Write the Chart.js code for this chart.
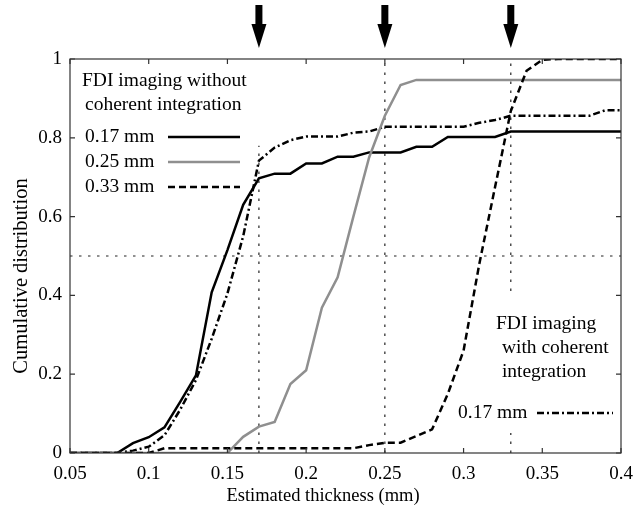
<!DOCTYPE html>
<html>
<head>
<meta charset="utf-8">
<script src="https://cdn.jsdelivr.net/npm/chart.js@4/dist/chart.umd.min.js"></script>
<style>
  html, body { margin: 0; padding: 0; background: #fff; }
  #wrap { width: 634px; height: 511px; }
</style>
</head>
<body>
<div id="wrap"><canvas id="myChart" width="634" height="511"></canvas></div>
<script>
// thickness samples (mm)
const thickness = [0.05, 0.06, 0.07, 0.08, 0.09, 0.10, 0.11, 0.12, 0.13, 0.14, 0.15, 0.16,
  0.17, 0.18, 0.19, 0.20, 0.21, 0.22, 0.23, 0.24, 0.25, 0.26, 0.27, 0.28,
  0.29, 0.30, 0.31, 0.32, 0.33, 0.34, 0.35, 0.36, 0.37, 0.38, 0.39, 0.40];

// without coherent integration
const noCoh017 = [0, 0, 0, 0, 0.025, 0.04, 0.065, 0.13, 0.197, 0.408, 0.515, 0.63,
  0.697, 0.709, 0.709, 0.735, 0.735, 0.752, 0.752, 0.763, 0.763, 0.763, 0.777, 0.777,
  0.802, 0.802, 0.802, 0.802, 0.816, 0.816, 0.816, 0.816, 0.816, 0.816, 0.816, 0.816];
const noCoh025 = [0, 0, 0, 0, 0, 0, 0, 0, 0, 0, 0, 0.041,
  0.067, 0.079, 0.175, 0.21, 0.369, 0.446, 0.60, 0.75, 0.856, 0.934, 0.947, 0.947,
  0.947, 0.947, 0.947, 0.947, 0.947, 0.947, 0.947, 0.947, 0.947, 0.947, 0.947, 0.947];
const noCoh033 = [0, 0, 0, 0, 0, 0, 0.012, 0.012, 0.012, 0.012, 0.012, 0.012,
  0.012, 0.012, 0.012, 0.012, 0.012, 0.012, 0.012, 0.02, 0.026, 0.026, 0.043, 0.06,
  0.15, 0.26, 0.48, 0.675, 0.868, 0.97, 0.998, 1, 1, 1, 1, 1];
// with coherent integration
const coh017 = [0, 0, 0, 0, 0.006, 0.016, 0.045, 0.11, 0.185, 0.29, 0.405, 0.55,
  0.742, 0.775, 0.794, 0.803, 0.803, 0.803, 0.813, 0.816, 0.828, 0.828, 0.828, 0.828,
  0.828, 0.828, 0.838, 0.845, 0.856, 0.856, 0.856, 0.856, 0.856, 0.856, 0.87, 0.87];

const xTicks = [0.05, 0.1, 0.15, 0.2, 0.25, 0.3, 0.35, 0.4];
const xTickLabels = ['0.05', '0.1', '0.15', '0.2', '0.25', '0.3', '0.35', '0.4'];
const yTicks = [0, 0.2, 0.4, 0.6, 0.8, 1];
const yTickLabels = ['0', '0.2', '0.4', '0.6', '0.8', '1'];

// marked thicknesses (arrows + vertical guides) and the 50% guide
const markers = [0.17, 0.25, 0.33];
const markerTop = [0.78, 1, 1];
const halfLevel = 0.5;

const xTitle = 'Estimated thickness (mm)';
const yTitle = 'Cumulative distribution';
const legend1Title = ['FDI imaging without', 'coherent integration'];
const legend1Labels = ['0.17 mm', '0.25 mm', '0.33 mm'];
const legend2Title = ['FDI imaging', ' with coherent', ' integration'];
const legend2Labels = ['0.17 mm'];

const FONT = '"Liberation Serif", "Times New Roman", serif';
const GRAY = '#8f8f8f';
const DASH = [7, 4];
const DASHDOT = [7, 3, 2, 3];

function pts(ys) {
  return thickness.map((x, i) => ({ x: x, y: ys[i] }));
}

function sample(ctx, x1, x2, y, color, dash) {
  ctx.save();
  ctx.strokeStyle = color;
  ctx.lineWidth = 2.5;
  ctx.setLineDash(dash);
  ctx.beginPath();
  ctx.moveTo(x1, y);
  ctx.lineTo(x2, y);
  ctx.stroke();
  ctx.restore();
}

const decorations = {
  id: 'decorations',
  beforeDatasetsDraw(chart) {
    const ctx = chart.ctx;
    const xs = chart.scales.x, ys = chart.scales.y;
    const a = chart.chartArea;
    ctx.save();
    ctx.strokeStyle = '#222';
    ctx.lineWidth = 1.2;
    ctx.setLineDash([2.5, 6.5]);
    ctx.beginPath();
    const yh = ys.getPixelForValue(halfLevel);
    ctx.moveTo(a.left, yh);
    ctx.lineTo(a.right, yh);
    markers.forEach((m, i) => {
      const px = xs.getPixelForValue(m);
      ctx.moveTo(px, a.bottom);
      ctx.lineTo(px, ys.getPixelForValue(markerTop[i]));
    });
    ctx.stroke();
    ctx.restore();
    // white panel behind second legend
    ctx.save();
    ctx.fillStyle = '#fff';
    ctx.fillRect(452, 292, 164, 141);
    ctx.restore();
  },
  afterDatasetsDraw(chart) {
    const ctx = chart.ctx;
    const xs = chart.scales.x, ys = chart.scales.y;
    const a = chart.chartArea;

    // frame with inward ticks
    ctx.save();
    ctx.strokeStyle = '#333';
    ctx.lineWidth = 1.2;
    ctx.strokeRect(a.left, a.top, a.right - a.left, a.bottom - a.top);
    ctx.beginPath();
    xTicks.forEach(v => {
      const px = xs.getPixelForValue(v);
      ctx.moveTo(px, a.bottom); ctx.lineTo(px, a.bottom - 5);
      ctx.moveTo(px, a.top); ctx.lineTo(px, a.top + 5);
    });
    yTicks.forEach(v => {
      const py = ys.getPixelForValue(v);
      ctx.moveTo(a.left, py); ctx.lineTo(a.left + 5, py);
      ctx.moveTo(a.right, py); ctx.lineTo(a.right - 5, py);
    });
    ctx.stroke();
    ctx.restore();

    // arrows above the plot
    ctx.save();
    ctx.fillStyle = '#000';
    markers.forEach(m => {
      const px = xs.getPixelForValue(m);
      ctx.fillRect(px - 3.5, 5, 7, 20);
      ctx.beginPath();
      ctx.moveTo(px - 7.5, 24);
      ctx.lineTo(px + 7.5, 24);
      ctx.lineTo(px, 48);
      ctx.closePath();
      ctx.fill();
    });
    ctx.restore();

    // axis titles
    ctx.save();
    ctx.fillStyle = '#000';
    ctx.textAlign = 'center';
    ctx.textBaseline = 'middle';
    ctx.font = '18.5px ' + FONT;
    ctx.fillText(xTitle, 323, 496);
    ctx.translate(22, 276);
    ctx.rotate(-Math.PI / 2);
    ctx.font = '20.5px ' + FONT;
    ctx.fillText(yTitle, 0, 0);
    ctx.restore();

    // legends
    ctx.save();
    ctx.fillStyle = '#000';
    ctx.font = '19.5px ' + FONT;
    ctx.textBaseline = 'middle';
    ctx.textAlign = 'left';
    ctx.fillText(legend1Title[0], 82, 81);
    ctx.fillText(legend1Title[1], 85, 105);
    const styles = [['#000', []], [GRAY, []], ['#000', DASH]];
    legend1Labels.forEach((t, i) => {
      const y = 137 + i * 25;
      ctx.fillText(t, 85, y);
      sample(ctx, 168, 240, y, styles[i][0], styles[i][1]);
    });
    ctx.fillText(legend2Title[0], 496, 324);
    ctx.fillText(legend2Title[1], 497, 348);
    ctx.fillText(legend2Title[2], 497, 372);
    ctx.fillText(legend2Labels[0], 458, 413);
    sample(ctx, 537, 613, 413, '#000', DASHDOT);
    ctx.restore();
  }
};

const ctx = document.getElementById('myChart').getContext('2d');

new Chart(ctx, {
  type: 'line',
  data: {
    datasets: [
      { label: '0.33 mm', data: pts(noCoh033), borderColor: '#000', borderDash: DASH },
      { label: '0.25 mm', data: pts(noCoh025), borderColor: GRAY },
      { label: '0.17 mm coherent', data: pts(coh017), borderColor: '#000', borderDash: DASHDOT },
      { label: '0.17 mm', data: pts(noCoh017), borderColor: '#000' }
    ]
  },
  options: {
    responsive: false,
    animation: false,
    layout: { padding: { top: 59, right: 13, left: 0, bottom: 0 } },
    elements: {
      point: { radius: 0 },
      line: { borderWidth: 2.5, tension: 0, fill: false }
    },
    plugins: { legend: { display: false }, tooltip: { enabled: false } },
    scales: {
      x: {
        type: 'linear',
        min: 0.05,
        max: 0.4,
        afterBuildTicks: s => { s.ticks = xTicks.map(v => ({ value: v })); },
        afterFit: s => { s.height = 58; s.paddingLeft = 0; s.paddingRight = 0; },
        grid: { display: false, drawTicks: false },
        border: { display: false },
        ticks: {
          padding: 10,
          color: '#000',
          font: { family: FONT, size: 19 },
          maxRotation: 0,
          callback: (v, i) => xTickLabels[i]
        }
      },
      y: {
        min: 0,
        max: 1,
        afterBuildTicks: s => { s.ticks = yTicks.map(v => ({ value: v })); },
        afterFit: s => { s.width = 70; s.paddingTop = 0; s.paddingBottom = 0; },
        grid: { display: false, drawTicks: false },
        border: { display: false },
        ticks: {
          padding: 8,
          color: '#000',
          font: { family: FONT, size: 19 },
          callback: (v, i) => yTickLabels[i]
        }
      }
    }
  },
  plugins: [decorations]
});
</script>
</body>
</html>
